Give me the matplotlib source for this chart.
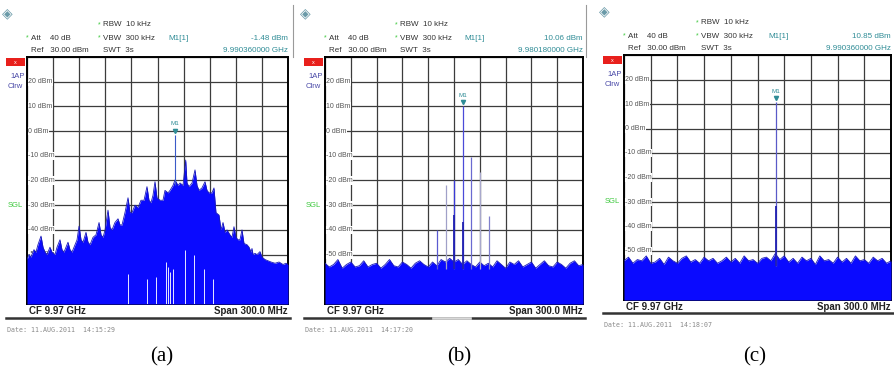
import numpy as np
import matplotlib.pyplot as plt
from matplotlib.patches import Rectangle
from matplotlib.lines import Line2D

W, H = 894, 375

# ---- data: frequency offset from CF 9.97 GHz (MHz), level (dBm) ----
# (a) broad trace envelope
a_freq = [-150, -147.7, -145.4, -142.0, -139.7, -137.4, -133.9, -131.6, -129.3, -127.0,
          -123.6, -121.3, -117.8, -115.5, -112.1, -109.8, -107.5, -105.2, -102.9, -100.6,
          -98.3, -94.8, -92.5, -90.2, -87.9, -85.6, -82.2, -79.9, -77.6, -74.1,
          -70.7, -67.2, -64.9, -62.6, -60.3, -56.9, -54.6, -52.3, -48.9, -45.4,
          -43.1, -40.8, -37.4, -33.9, -31.6, -29.3, -25.9, -22.4, -19.0, -15.5,
          -12.1, -9.8, -7.5, -5.2, -2.9, -0.6, 2.9, 6.3, 8.6, 12.1,
          14.4, 17.8, 20.1, 23.6, 25.9, 29.3, 32.4, 33.9, 36.2, 39.7,
          43.1, 45.4, 47.7, 51.1, 54.6, 56.9, 59.2, 62.6, 64.9, 67.2,
          70.7, 73.0, 75.3, 77.6, 79.9, 83.3, 85.6, 87.9, 90.2, 92.5,
          94.8, 97.1, 99.4, 102.9, 105.2, 107.5, 108.6, 109.8, 112.1, 114.4,
          117.8, 120.1, 123.6, 127.0, 130.5, 135.1, 139.7, 144.3, 147.7, 150]
a_level = [-52, -50, -51, -48, -49, -46, -42.5, -47, -49, -50,
           -47, -49, -50, -47, -44, -48, -49, -47, -45, -48,
           -49, -46, -44, -38.5, -44, -45, -41, -45, -46, -43,
           -42, -37, -42, -43, -40, -32, -39, -40, -37, -35.5,
           -38, -38, -33, -27, -33, -33, -30, -31, -28, -28,
           -22.5, -28, -29, -26, -20.5, -27, -28, -28, -24, -25,
           -24, -22, -19.8, -22, -21, -22, -11.7, -21, -22.5, -21,
           -15.7, -22, -24, -23, -20.5, -24, -25, -25, -23, -33,
           -34, -40, -37, -41, -40, -42, -43, -38.7, -43, -44,
           -44, -40, -45.5, -46, -47, -49, -47.5, -50, -49.5, -50,
           -48.8, -51, -52, -52.5, -53, -53.5, -53, -54, -53.5, -54]
a_m1_freq, a_m1_level = 20.36, -1.48
a_gap_freq = [-34.0, -12.0, -2.0, 10.0, 12.5, 14.5, 17.5, 32.0, 42.0, 53.0, 64.0]
a_gap_level = [-58, -60, -59, -53, -55, -57, -56, -48, -50, -56, -60]

# (b) and (c) noise floor, 5 MHz steps
noise_freq = np.linspace(-150, 150, 61)
b_noise = [-53.5, -55, -54, -52, -55.5, -54, -53, -55, -54.5, -52.5,
           -55, -54, -53.5, -55.5, -54, -52, -54.5, -55, -53, -54,
           -55.5, -53.5, -52.5, -54, -55, -53, -54.5, -52, -53, -51.5,
           -53, -52, -54, -52.5, -54, -55, -53, -54.5, -53.5, -55,
           -52.5, -54, -55.5, -53, -54, -52.5, -55, -54, -53, -55.5,
           -54, -52.5, -54.5, -55, -53, -54, -55.5, -53.5, -52.5, -54.5, -54]
c_noise = [-54, -52.5, -55, -53.5, -54, -52, -55, -54.5, -53, -55.5,
           -52.5, -54, -55, -53, -52, -54.5, -53.5, -55, -52.5, -54,
           -53, -55, -54, -52.5, -54.5, -53, -55, -52, -54, -53.5,
           -55, -53, -52.5, -54, -51, -53.5, -52, -54.5, -53, -55,
           -52.5, -54, -53, -55.5, -52, -54, -53.5, -55, -52.5, -54.5,
           -53, -55, -52, -54, -53.5, -55, -52.5, -54, -53, -55, -54]

b_spike_freq = [-19.82, -9.82, 0.18, 10.18, 20.18, 30.18, 40.18]
b_spike_level = [-40, -22, -20, 10.06, -10.5, -16.5, -34.5]
b_spike_color = ['#5a5ad0', '#a0a0c8', '#3a3ad8', '#4a4ad8', '#6a6ad0', '#a8a8cc', '#8080cc']
b_dark_freq = [0.18, 10.18]
b_dark_level = [-34, -37]

c_spike_freq = [20.36]
c_spike_level = [10.85]
c_dark_level = [-31.5]

panels = [
    dict(box=(27, 288, 57, 304), foot=318, val='-1.48 dBm', fq='9.990360000 GHz',
         date='Date: 11.AUG.2011  14:15:29', cap='(a)', capx=162),
    dict(box=(325, 583, 57, 304), foot=318, val='10.06 dBm', fq='9.980180000 GHz',
         date='Date: 11.AUG.2011  14:17:20', cap='(b)', capx=459),
    dict(box=(624, 891, 55, 300), foot=313, val='10.85 dBm', fq='9.990360000 GHz',
         date='Date: 11.AUG.2011  14:18:07', cap='(c)', capx=755),
]

TEAL = '#2f8c96'
GREEN = '#3cc83c'
TXT = '#333333'
FONT = 'Liberation Sans'

fig = plt.figure(figsize=(W / 100, H / 100), dpi=100)


def fx(x):
    return x / W


def fy(y):
    return 1 - y / H


def ftext(x, y, s, **kw):
    kw.setdefault('family', FONT)
    kw.setdefault('fontsize', 5.8)
    kw.setdefault('color', TXT)
    kw.setdefault('va', 'center')
    fig.text(fx(x), fy(y), s, **kw)


axes = []
for p in panels:
    x0, x1, y0, y1 = p['box']
    ax = fig.add_axes([fx(x0), fy(y1), fx(x1 - x0), (y1 - y0) / H])
    ax.set_xlim(-150, 150)
    ax.set_ylim(-70, 30)
    ax.set_xticks(np.arange(-150, 151, 30))
    ax.set_yticks(np.arange(-70, 31, 10))
    ax.grid(color='#3c3c3c', lw=0.9)
    ax.set_axisbelow(True)
    ax.tick_params(length=0, labelbottom=False, labelleft=False)
    for s in ax.spines.values():
        s.set_color('black')
        s.set_linewidth(1.4)
    for v in range(20, -51, -10):
        ax.text(-149, v, f'{v} dBm', fontsize=5, family=FONT, color='#555555',
                va='center', ha='left', zorder=1.5,
                bbox=dict(facecolor='white', edgecolor='none', pad=0.4))
    axes.append(ax)

    # header
    w = x1 - x0
    ftext(x0 - 20, y0 - 44, '\u25C8', fontsize=10, color='#6a9aa8', family='DejaVu Sans', ha='center')
    ftext(x0 + 0.27 * w, y0 - 32, '*', color=GREEN, fontsize=5)
    ftext(x0 + 0.29 * w, y0 - 32, 'RBW  10 kHz')
    ftext(x0 + 0.27 * w, y0 - 19, '*', color=GREEN, fontsize=5)
    ftext(x0 + 0.29 * w, y0 - 19, 'VBW  300 kHz')
    ftext(x0 + 0.29 * w, y0 - 7, 'SWT  3s')
    ftext(x0 - 1, y0 - 19, '*', color=GREEN, fontsize=5)
    ftext(x0 + 4, y0 - 19, 'Att    40 dB')
    ftext(x0 + 4, y0 - 7, 'Ref   30.00 dBm')
    ftext(x0 + 0.54 * w, y0 - 19, 'M1[1]', color=TEAL)
    ftext(x1, y0 - 19, p['val'], color=TEAL, ha='right')
    ftext(x1, y0 - 7, p['fq'], color=TEAL, ha='right')

    # left side indicators
    fig.patches.append(Rectangle((fx(x0 - 21), fy(y0 + 9)), fx(19), 8 / H,
                                 transform=fig.transFigure, facecolor='#e8201c', edgecolor='none'))
    ftext(x0 - 11.5, y0 + 5, 'x', color='white', fontsize=4, ha='center')
    ftext(x0 - 17, y0 + 20, '1AP', color='#4a4aa8', fontsize=5.5)
    ftext(x0 - 19, y0 + 30, 'Clrw', color='#4a4aa8', fontsize=5.5)
    ftext(x0 - 19, y0 + 0.6 * (y1 - y0), 'SGL', color=GREEN, fontsize=5.5)

    # footer
    ftext(x0 + 2, (y1 + p['foot']) / 2, 'CF 9.97 GHz', fontsize=7, fontweight='bold', color='#222222')
    ftext(x1, (y1 + p['foot']) / 2, 'Span 300.0 MHz', fontsize=7, fontweight='bold',
          color='#222222', ha='right')
    fig.lines.append(Line2D([fx(x0 - 21), fx(x1 + 2)], [fy(p['foot'])] * 2,
                            transform=fig.transFigure, color='#333333', lw=1.8))
    ftext(x0 - 20, p['foot'] + 12, p['date'], fontsize=4.8, color='#8a8a8a', family='DejaVu Sans Mono')
    ftext(p['capx'], 357, p['cap'], fontsize=15, color='black', family='Liberation Serif', ha='center')

# lighter gap in the footer line of (b)
fig.lines.append(Line2D([fx(433), fx(470)], [fy(318)] * 2, transform=fig.transFigure,
                        color='#d8d8d8', lw=1.9))

# thin frame edges at right of headers
for xr in [293, 586]:
    fig.lines.append(Line2D([fx(xr)] * 2, [fy(5), fy(57)], transform=fig.transFigure,
                            color='#9a9a9a', lw=0.8))

# (a)
ax = axes[0]
ax.fill_between(a_freq, -70, a_level, color='#0a0aff', lw=0, zorder=3)
ax.plot(a_freq, a_level, color='#1a1ab8', lw=0.6, zorder=3)
ax.vlines(a_gap_freq, -70, a_gap_level, color='#e8e8ff', lw=0.7, zorder=3.5)
ax.vlines([a_m1_freq], -22, [a_m1_level], color='#3a5ac8', lw=0.8, zorder=4)
marks = [(ax, a_m1_freq, a_m1_level)]

# (b)
ax = axes[1]
ax.fill_between(noise_freq, -70, b_noise, color='#0a0aff', lw=0, zorder=3)
ax.plot(noise_freq, b_noise, color='#1a1ab8', lw=0.6, zorder=3)
ax.vlines(b_spike_freq, -56, b_spike_level, colors=b_spike_color, lw=0.9, zorder=4)
ax.vlines(b_dark_freq, -56, b_dark_level, color='#2020b0', lw=1.3, zorder=4)
marks.append((ax, b_spike_freq[3], b_spike_level[3]))

# (c)
ax = axes[2]
ax.fill_between(noise_freq, -70, c_noise, color='#0a0aff', lw=0, zorder=3)
ax.plot(noise_freq, c_noise, color='#1a1ab8', lw=0.6, zorder=3)
ax.vlines(c_spike_freq, -56, c_spike_level, color='#5a5ac8', lw=0.9, zorder=4)
ax.vlines(c_spike_freq, -56, c_dark_level, color='#2020b0', lw=1.3, zorder=4)
marks.append((ax, c_spike_freq[0], c_spike_level[0]))

for ax, f, lv in marks:
    ax.plot([f], [lv + 1.6], marker='v', color=TEAL, ms=3, zorder=5)
    ax.text(f, lv + 3.4, 'M1', fontsize=4.5, family=FONT, color=TEAL, ha='center', va='bottom', zorder=5)

fig.savefig('out.png', dpi=100)
